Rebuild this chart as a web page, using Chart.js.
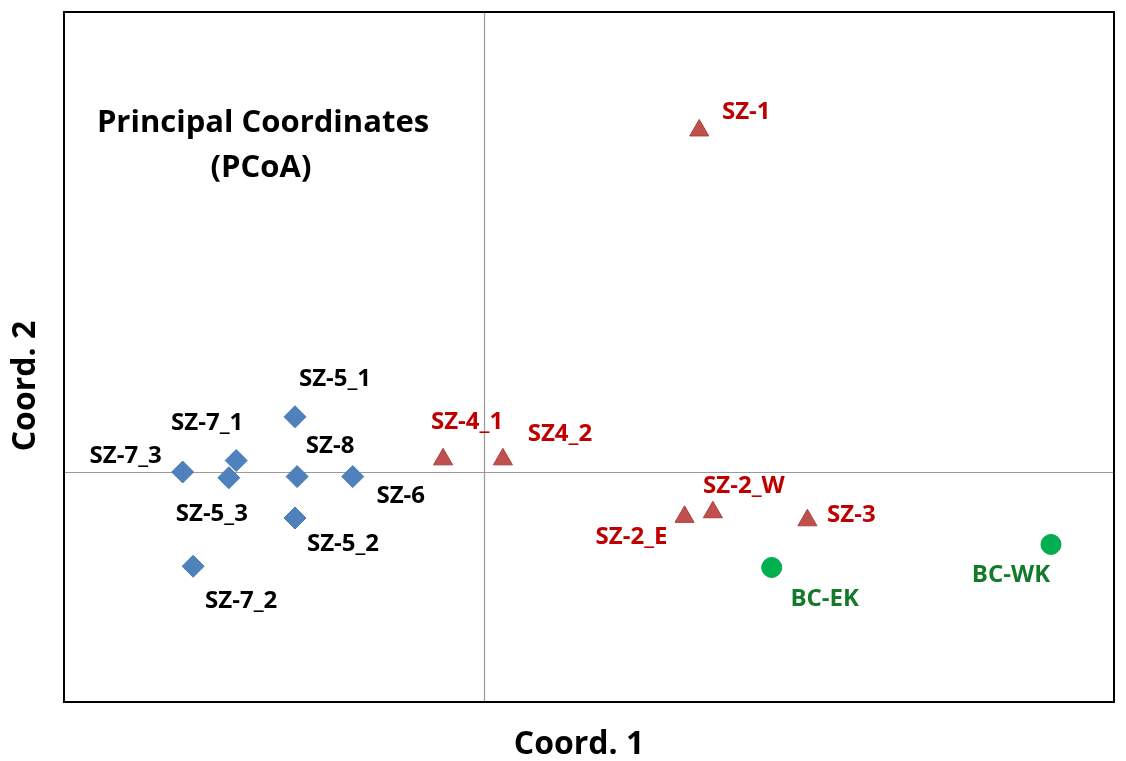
<!DOCTYPE html>
<html>
<head>
<meta charset="utf-8">
<script src="https://cdn.jsdelivr.net/npm/chart.js@4/dist/chart.umd.min.js"></script>
<style>
  html, body { margin: 0; padding: 0; background: #ffffff; }
  canvas { display: block; }
</style>
</head>
<body>
<canvas id="pcoa" width="1126" height="761"></canvas>
<script>
// Sample groups and their PCoA coordinates
const blueNames = ['SZ-5_1', 'SZ-7_1', 'SZ-7_3', 'SZ-5_3', 'SZ-8', 'SZ-6', 'SZ-5_2', 'SZ-7_2'];
const blueX = [-0.180, -0.236, -0.287, -0.243, -0.178, -0.125, -0.180, -0.277];
const blueY = [0.048, 0.010, 0.000, -0.005, -0.004, -0.004, -0.040, -0.082];

const redNames = ['SZ-1', 'SZ-4_1', 'SZ4_2', 'SZ-2_E', 'SZ-2_W', 'SZ-3'];
const redX = [0.205, -0.039, 0.018, 0.191, 0.218, 0.308];
const redY = [0.297, 0.011, 0.011, -0.039, -0.035, -0.042];

const greenNames = ['BC-EK', 'BC-WK'];
const greenX = [0.274, 0.540];
const greenY = [-0.083, -0.063];

// Axis extents
const xRange = [-0.4, 0.6];
const yRange = [-0.2, 0.4];

// Label placement relative to each marker, in pixels
const blueLabelOffsets = [[40, -38], [-29, -37], [-57, -16], [-17, 36], [33, -30], [48, 20], [48, 26], [48, 35]];
const redLabelOffsets = [[47, -18], [24, -37], [57, -25], [-53, 20], [31, -26], [44, -5]];
const greenLabelOffsets = [[53, 32], [-40, 31]];

const FONT = '"Open Sans", Lato, "DejaVu Sans", sans-serif';

function points(xs, ys) {
  return xs.map((x, i) => ({ x: x, y: ys[i] }));
}

const groups = [
  { names: blueNames, offsets: blueLabelOffsets, color: '#000000' },
  { names: redNames, offsets: redLabelOffsets, color: '#C00000' },
  { names: greenNames, offsets: greenLabelOffsets, color: '#137A2B' }
];

const decorations = {
  id: 'decorations',
  beforeDatasetsDraw(chart) {
    const ctx = chart.ctx;
    const a = chart.chartArea;
    const xs = chart.scales.x, ys = chart.scales.y;
    const x0 = Math.round(xs.getPixelForValue(0)) + 0.5;
    const y0 = Math.round(ys.getPixelForValue(0)) + 0.5;
    ctx.save();
    ctx.strokeStyle = '#9a9a9a';
    ctx.lineWidth = 1.2;
    ctx.beginPath();
    ctx.moveTo(x0, a.top);
    ctx.lineTo(x0, a.bottom);
    ctx.moveTo(a.left, y0);
    ctx.lineTo(a.right, y0);
    ctx.stroke();
    ctx.restore();
  },
  afterDraw(chart) {
    const ctx = chart.ctx;
    const a = chart.chartArea;
    ctx.save();
    // plot frame
    ctx.strokeStyle = '#000000';
    ctx.lineWidth = 2;
    ctx.strokeRect(a.left, a.top, a.right - a.left, a.bottom - a.top);

    // point labels
    ctx.textAlign = 'center';
    ctx.textBaseline = 'middle';
    ctx.font = 'bold 24px ' + FONT;
    groups.forEach((g, di) => {
      const meta = chart.getDatasetMeta(di);
      meta.data.forEach((el, i) => {
        ctx.fillStyle = g.color;
        ctx.fillText(g.names[i], el.x + g.offsets[i][0], el.y + g.offsets[i][1]);
      });
    });

    // chart title inside the plot
    ctx.fillStyle = '#000000';
    ctx.font = 'bold 31px ' + FONT;
    ctx.fillText('Principal Coordinates', 263, 123);
    ctx.fillText('(PCoA)', 261, 168);

    // axis titles
    ctx.font = 'bold 32px ' + FONT;
    ctx.fillText('Coord. 1', 579, 745);
    ctx.translate(26, 386);
    ctx.rotate(-Math.PI / 2);
    ctx.fillText('Coord. 2', 0, 0);
    ctx.restore();
  }
};

new Chart(document.getElementById('pcoa'), {
  type: 'scatter',
  data: {
    datasets: [
      {
        label: 'SZ-5 / SZ-6 / SZ-7 / SZ-8',
        data: points(blueX, blueY),
        pointStyle: 'rectRot',
        pointRadius: 11,
        backgroundColor: '#4F81BD',
        borderColor: '#4A7AB4',
        borderWidth: 1
      },
      {
        label: 'SZ-1 / SZ-2 / SZ-3 / SZ-4',
        data: points(redX, redY),
        pointStyle: 'triangle',
        pointRadius: 11,
        backgroundColor: '#C0504D',
        borderColor: '#A8403D',
        borderWidth: 1
      },
      {
        label: 'BC',
        data: points(greenX, greenY),
        pointStyle: 'circle',
        pointRadius: 10,
        backgroundColor: '#00B050',
        borderColor: '#00A84C',
        borderWidth: 1
      }
    ]
  },
  options: {
    responsive: false,
    devicePixelRatio: 1,
    animation: false,
    layout: { padding: { left: 64, top: 9, right: 4, bottom: 59 } },
    plugins: {
      legend: { display: false },
      tooltip: { enabled: false },
      title: { display: false }
    },
    scales: {
      x: { type: 'linear', min: xRange[0], max: xRange[1], display: false },
      y: { type: 'linear', min: yRange[0], max: yRange[1], display: false }
    }
  },
  plugins: [decorations]
});
</script>
</body>
</html>
